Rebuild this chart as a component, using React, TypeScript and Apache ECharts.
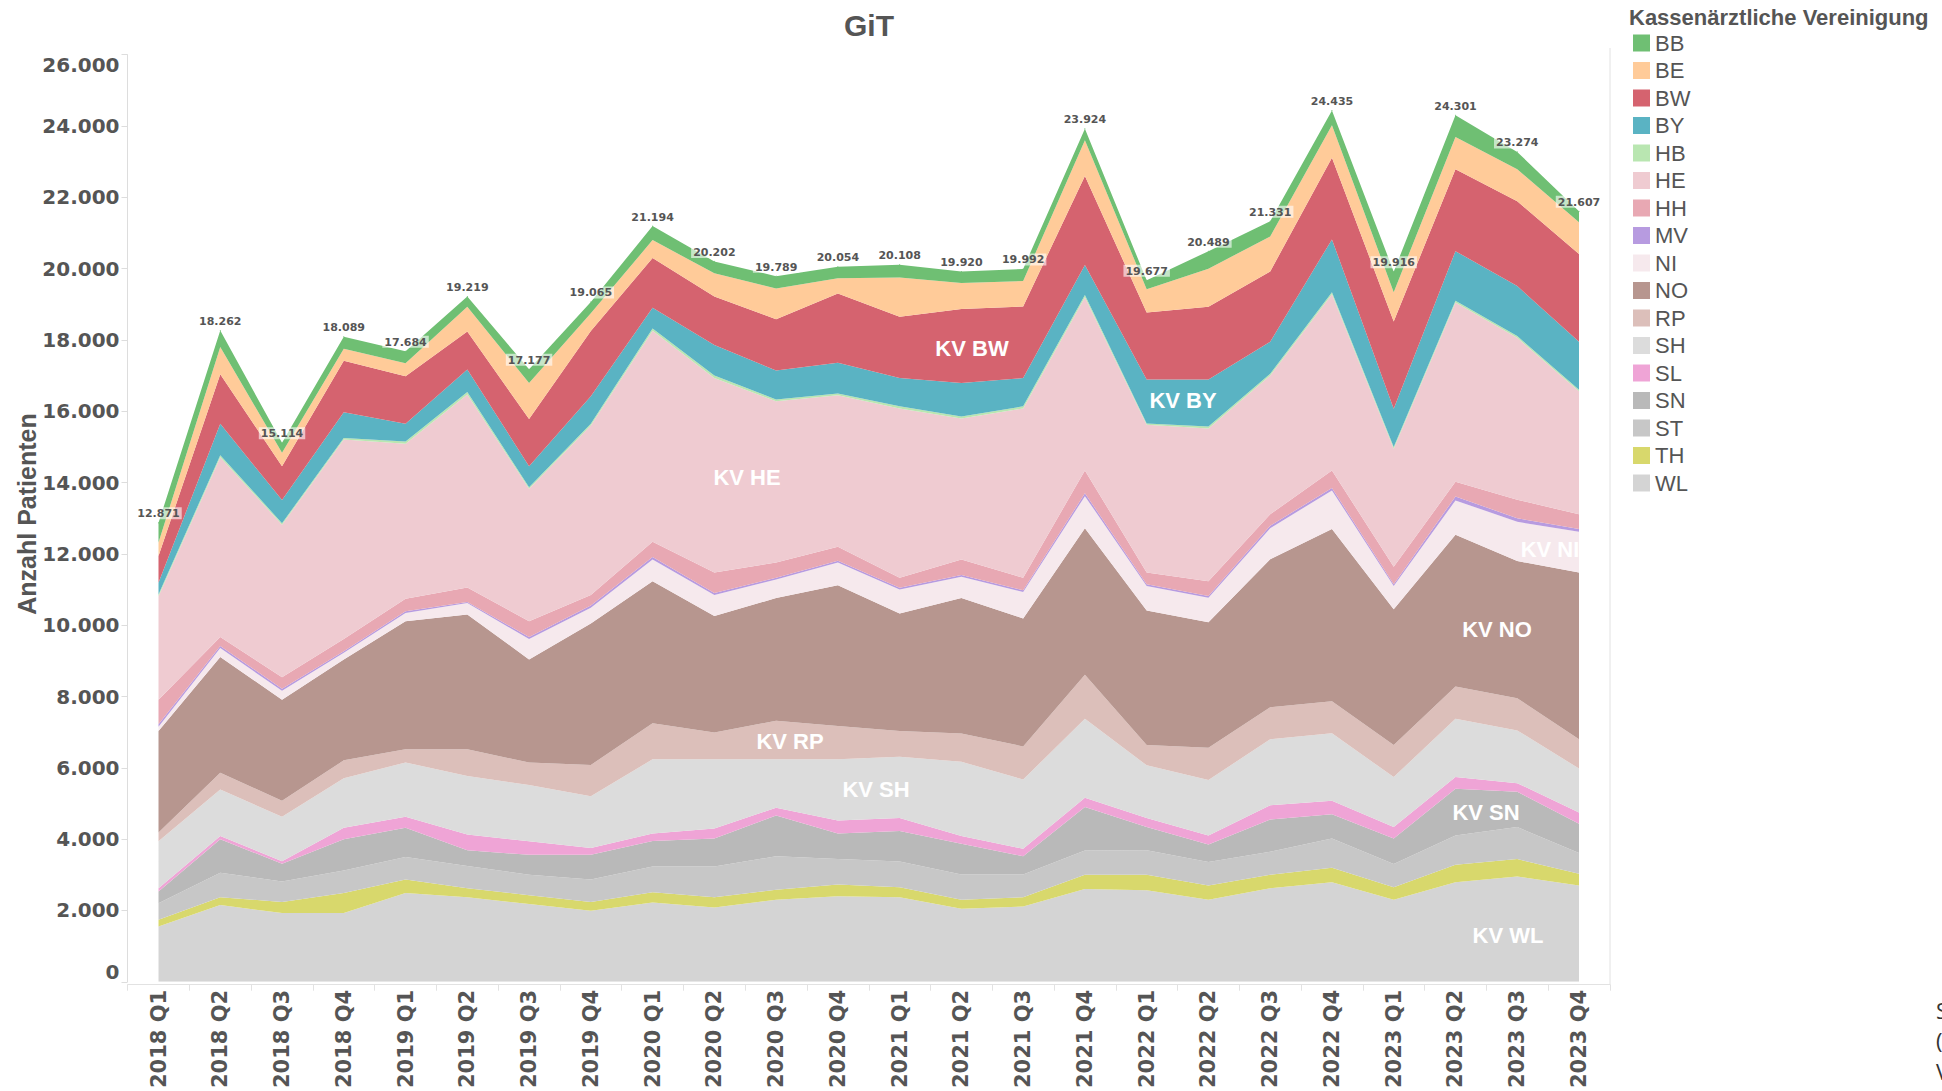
import React, { useEffect, useRef } from "react";
import * as echarts from "echarts";

const quarters = [
  "2018 Q1", "2018 Q2", "2018 Q3", "2018 Q4",
  "2019 Q1", "2019 Q2", "2019 Q3", "2019 Q4",
  "2020 Q1", "2020 Q2", "2020 Q3", "2020 Q4",
  "2021 Q1", "2021 Q2", "2021 Q3", "2021 Q4",
  "2022 Q1", "2022 Q2", "2022 Q3", "2022 Q4",
  "2023 Q1", "2023 Q2", "2023 Q3", "2023 Q4",
];

const totals = [12871, 18262, 15114, 18089, 17684, 19219, 17177, 19065, 21194, 20202, 19789, 20054, 20108, 19920, 19992, 23924, 19677, 20489, 21331, 24435, 19916, 24301, 23274, 21607];

const WL = [1550, 2150, 1930, 1930, 2490, 2370, 2180, 1990, 2220, 2080, 2300, 2400, 2370, 2050, 2110, 2600, 2570, 2300, 2620, 2790, 2300, 2790, 2950, 2700];
const TH = [190, 220, 310, 560, 380, 250, 250, 250, 290, 290, 280, 330, 280, 250, 260, 400, 430, 400, 380, 410, 350, 490, 490, 330];
const ST = [460, 690, 570, 630, 630, 630, 570, 630, 720, 860, 940, 710, 720, 710, 640, 680, 690, 660, 650, 820, 650, 820, 900, 580];
const SN = [330, 940, 500, 880, 820, 440, 560, 690, 720, 790, 1140, 720, 860, 860, 510, 1220, 650, 490, 900, 680, 720, 1310, 990, 820];
const SL = [90, 90, 70, 320, 310, 440, 380, 190, 210, 280, 220, 360, 360, 220, 210, 260, 250, 250, 400, 380, 320, 330, 240, 320];
const SH = [1320, 1300, 1250, 1390, 1520, 1640, 1580, 1450, 2080, 1940, 1360, 1720, 1720, 2080, 1940, 2220, 1480, 1560, 1850, 1890, 1400, 1640, 1480, 1230];
const RP = [250, 470, 450, 500, 370, 750, 630, 880, 1010, 750, 1080, 930, 720, 790, 930, 1230, 570, 900, 900, 900, 900, 900, 900, 820];
const NO = [2840, 3250, 2830, 2830, 3590, 3780, 2890, 3970, 3980, 3270, 3440, 3950, 3300, 3800, 3590, 4110, 3770, 3520, 4150, 4830, 3810, 4260, 3850, 4680];
const NI = [120, 250, 250, 190, 230, 320, 570, 440, 610, 590, 520, 640, 670, 600, 740, 900, 690, 690, 870, 1080, 650, 960, 1100, 1140];
const MV = [70, 60, 60, 40, 50, 30, 60, 60, 70, 50, 50, 50, 50, 50, 50, 80, 50, 50, 70, 70, 50, 110, 100, 80];
const HH = [690, 250, 320, 340, 350, 410, 440, 300, 430, 580, 430, 390, 280, 430, 350, 640, 330, 410, 320, 490, 490, 410, 520, 410];
const HE = [2900, 5040, 4280, 5600, 4350, 5410, 3720, 4750, 5920, 5450, 4520, 4250, 4750, 3960, 4750, 4860, 4140, 4290, 3890, 4940, 3310, 5030, 4540, 3450];
const HB = [50, 60, 40, 40, 60, 70, 40, 50, 60, 70, 50, 50, 60, 50, 60, 60, 40, 50, 50, 60, 50, 50, 50, 40];
const BY = [330, 880, 650, 720, 500, 630, 590, 770, 580, 860, 810, 860, 790, 940, 790, 840, 1230, 1320, 900, 1480, 1070, 1390, 1400, 1350];
const BW = [750, 1390, 950, 1450, 1330, 1070, 1320, 1830, 1400, 1360, 1440, 1940, 1720, 2080, 2010, 2500, 1880, 2040, 1970, 2290, 2450, 2300, 2380, 2460];
const BE = [380, 760, 380, 330, 370, 690, 1010, 500, 500, 650, 860, 430, 1100, 730, 710, 1000, 650, 1070, 980, 910, 820, 900, 900, 890];
const BB = [551, 462, 274, 339, 334, 289, 387, 315, 394, 332, 349, 324, 358, 320, 342, 324, 257, 489, 431, 415, 576, 611, 484, 307];

const legendNames = ["BB", "BE", "BW", "BY", "HB", "HE", "HH", "MV", "NI", "NO", "RP", "SH", "SL", "SN", "ST", "TH", "WL"];

const seriesValues: Record<string, number[]> = { BB, BE, BW, BY, HB, HE, HH, MV, NI, NO, RP, SH, SL, SN, ST, TH, WL };

const colors: Record<string, string> = {
  BB: "#6fbf73",
  BE: "#ffcb99",
  BW: "#d5636f",
  BY: "#5ab3c3",
  HB: "#b9e6b1",
  HE: "#efcbd1",
  HH: "#e8a8b3",
  MV: "#b79be0",
  NI: "#f6e9ed",
  NO: "#b7968f",
  RP: "#dcbfba",
  SH: "#dcdcdc",
  SL: "#efa4d6",
  SN: "#b9b9b9",
  ST: "#c7c7c7",
  TH: "#d8d86c",
  WL: "#d4d4d4",
};

const areaLabels = [
  { text: "KV HE", x: 747, y: 477 },
  { text: "KV BW", x: 972, y: 348 },
  { text: "KV BY", x: 1183, y: 400 },
  { text: "KV RP", x: 790, y: 741 },
  { text: "KV SH", x: 876, y: 789 },
  { text: "KV SN", x: 1486, y: 812 },
  { text: "KV NO", x: 1497, y: 629 },
  { text: "KV NI", x: 1550, y: 549 },
  { text: "KV WL", x: 1508, y: 935 },
];

function fmt(n: number): string {
  return String(Math.round(n)).replace(/\B(?=(\d{3})+(?!\d))/g, ".");
}

export default function App() {
  const ref = useRef<HTMLDivElement>(null);
  useEffect(() => {
    const chart = echarts.init(ref.current!, null, { renderer: "svg" });
    const stackOrder = [...legendNames].reverse();
    const series: any[] = stackOrder.map((name) => {
      const isTop = name === "BB";
      return {
        name,
        type: "line",
        stack: "total",
        xAxisIndex: 0,
        yAxisIndex: 0,
        data: seriesValues[name],
        symbol: isTop ? "circle" : "none",
        symbolSize: isTop ? 1 : 0,
        showSymbol: isTop,
        lineStyle: { width: 0 },
        areaStyle: { color: colors[name], opacity: 1 },
        itemStyle: { color: colors[name] },
        emphasis: { disabled: true },
        label: isTop
          ? {
              show: true,
              position: "top",
              distance: 3,
              formatter: (p: any) => fmt(totals[p.dataIndex]),
              fontFamily: "DejaVu Sans",
              fontWeight: "bold",
              fontSize: 11,
              color: "#555",
              backgroundColor: "rgba(255,255,255,0.6)",
              padding: [1, 2, 0, 2],
            }
          : { show: false },
      };
    });

    const graphics: any[] = [
      {
        type: "text",
        x: 869,
        y: 25,
        z: 100,
        style: { text: "GiT", font: 'bold 30px "Liberation Sans", Arial, sans-serif', fill: "#555", align: "center", verticalAlign: "middle", textAlign: "center", textVerticalAlign: "middle" },
      },
      {
        type: "text",
        x: 27,
        y: 514,
        rotation: Math.PI / 2,
        z: 100,
        style: { text: "Anzahl Patienten", font: 'bold 25px "Liberation Sans", Arial, sans-serif', fill: "#555", align: "center", verticalAlign: "middle", textAlign: "center", textVerticalAlign: "middle" },
      },
      {
        type: "text",
        x: 1629,
        y: 17,
        z: 100,
        style: { text: "Kassenärztliche Vereinigung", font: 'bold 22px "Liberation Sans", Arial, sans-serif', fill: "#555", align: "left", verticalAlign: "middle", textAlign: "left", textVerticalAlign: "middle" },
      },
      {
        type: "line",
        z: 50,
        shape: { x1: 1610, y1: 48, x2: 1610, y2: 985 },
        style: { stroke: "#e2e2e2", lineWidth: 1 },
      },
    ];
    areaLabels.forEach((l) => {
      graphics.push({
        type: "text",
        x: l.x,
        y: l.y,
        z: 100,
        style: { text: l.text, font: 'bold 22px "Liberation Sans", Arial, sans-serif', fill: "#ffffff", align: "center", verticalAlign: "middle", textAlign: "center", textVerticalAlign: "middle" },
      });
    });
    graphics.push({
      type: "rect",
      z: 101,
      shape: { x: 1580.5, y: 530, width: 28, height: 40 },
      style: { fill: "#ffffff" },
    });
    [["S", 1010], ["(", 1040], ["V", 1071]].forEach(([t, y]) => {
      graphics.push({
        type: "text",
        x: 1936,
        y: y as number,
        z: 100,
        style: { text: t as string, font: '22px "Open Sans", sans-serif', fill: "#333", align: "left", verticalAlign: "middle", textAlign: "left", textVerticalAlign: "middle" },
      });
    });

    chart.setOption({
      animation: false,
      backgroundColor: "#ffffff",
      grid: [
        { left: 158.5, right: 363, top: 54.7, bottom: 106.8, containLabel: false },
        { left: 127.6, right: 332.1, top: 54.7, bottom: 106.3, containLabel: false },
      ],
      legend: {
        data: legendNames,
        orient: "vertical",
        left: 1628,
        top: 27,
        icon: "rect",
        itemWidth: 17,
        itemHeight: 17,
        itemGap: 5.5,
        selectedMode: false,
        textStyle: { fontFamily: "Liberation Sans", fontSize: 22, color: "#555" },
      },
      xAxis: [
        {
          type: "category",
          gridIndex: 0,
          data: quarters,
          boundaryGap: false,
          axisLine: { show: false },
          axisTick: { show: false },
          splitLine: { show: false },
          axisLabel: {
            rotate: 90,
            margin: 8,
            interval: 0,
            fontFamily: "DejaVu Sans",
            fontWeight: "bold",
            fontSize: 21,
            color: "#555",
          },
        },
        {
          type: "category",
          gridIndex: 1,
          data: quarters,
          boundaryGap: true,
          axisLine: { show: true, lineStyle: { color: "#e2e2e2" } },
          axisTick: { show: true, length: 6, interval: 0, lineStyle: { color: "#e2e2e2" } },
          axisLabel: { show: false },
          splitLine: { show: false },
        },
      ],
      yAxis: [
        {
          type: "value",
          gridIndex: 0,
          min: 0,
          max: 26000,
          interval: 2000,
          offset: 31,
          axisLine: { show: true, lineStyle: { color: "#dddddd" } },
          axisTick: { show: true, length: 6, lineStyle: { color: "#dddddd" } },
          splitLine: { show: false },
          axisLabel: {
            margin: 8,
            formatter: (v: number) => fmt(v),
            fontFamily: "DejaVu Sans",
            fontWeight: "bold",
            fontSize: 20,
            color: "#555",
            verticalAlignMinLabel: "bottom",
            verticalAlignMaxLabel: "top",
          },
        },
        {
          type: "value",
          gridIndex: 1,
          min: 0,
          max: 26000,
          show: false,
        },
      ],
      series,
      graphic: graphics,
    } as any);
    return () => chart.dispose();
  }, []);
  return (
    <div
      ref={ref}
      style={{ position: "fixed", left: 0, top: 0, width: 1942, height: 1091, background: "#fff" }}
    />
  );
}
